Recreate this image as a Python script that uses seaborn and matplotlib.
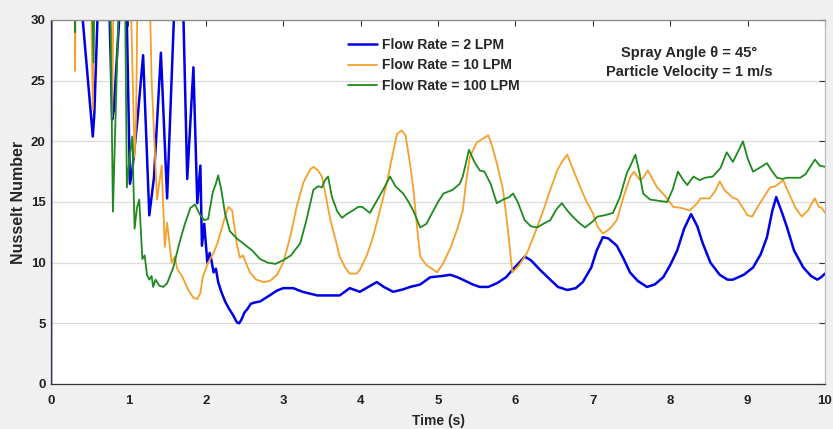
import matplotlib
matplotlib.use("Agg")
import matplotlib.pyplot as plt
import seaborn as sns
import pandas as pd

# ---------------- data ----------------
t_2lpm = [0.0, 0.005, 0.54, 0.56, 0.61, 0.70, 0.79, 0.81, 0.89, 0.95, 1.02, 1.05, 1.12, 1.19,
          1.27, 1.33, 1.42, 1.50, 1.59, 1.65, 1.71, 1.76, 1.84, 1.89, 1.93, 1.95, 1.98,
          2.02, 2.05, 2.07, 2.10, 2.13, 2.16, 2.20, 2.25, 2.30, 2.35, 2.40, 2.43, 2.46,
          2.50, 2.54, 2.58, 2.62, 2.70, 2.80, 2.92, 3.00, 3.13, 3.25, 3.44, 3.60, 3.73,
          3.86, 3.99, 4.10, 4.21, 4.30, 4.42, 4.55, 4.64, 4.77, 4.90, 5.05, 5.16, 5.25,
          5.32, 5.45, 5.54, 5.65, 5.76, 5.88, 5.96, 6.05, 6.12, 6.20, 6.32, 6.45, 6.55,
          6.67, 6.78, 6.87, 6.98, 7.05, 7.13, 7.20, 7.31, 7.40, 7.48, 7.58, 7.70, 7.80,
          7.91, 8.00, 8.09, 8.18, 8.27, 8.35, 8.42, 8.52, 8.64, 8.74, 8.81, 8.95, 9.07,
          9.17, 9.25, 9.32, 9.37, 9.44, 9.51, 9.60, 9.72, 9.82, 9.90, 9.95, 10.0]
nu_2lpm = [0.0, 60.0, 20.4, 22.3, 32.0, 45.0, 21.8, 22.5, 31.0, 40.0, 16.5, 17.6, 22.0, 27.1,
           13.9, 17.0, 27.3, 15.3, 30.5, 40.0, 30.5, 16.9, 26.1, 14.9, 18.0, 11.4, 13.2,
           10.0, 10.8, 10.3, 9.2, 9.5, 8.4, 7.6, 6.8, 6.2, 5.7, 5.1, 5.0, 5.3,
           5.9, 6.2, 6.6, 6.7, 6.8, 7.2, 7.7, 7.9, 7.9, 7.6, 7.3, 7.3, 7.3,
           7.9, 7.6, 8.0, 8.4, 8.0, 7.6, 7.8, 8.0, 8.2, 8.8, 8.9, 9.0, 8.8,
           8.6, 8.2, 8.0, 8.0, 8.3, 8.8, 9.4, 10.0, 10.5, 10.2, 9.4, 8.6, 8.0,
           7.75, 7.9, 8.4, 9.6, 11.0, 12.1, 12.0, 11.4, 10.3, 9.2, 8.5, 8.0, 8.2,
           8.8, 9.8, 11.0, 12.8, 14.0, 13.0, 11.6, 10.0, 9.0, 8.6, 8.6, 9.0, 9.6,
           10.7, 12.1, 14.3, 15.4, 14.2, 12.9, 11.0, 9.6, 8.9, 8.6, 8.8, 9.1]

t_10lpm = [0.0, 0.005, 0.30, 0.31, 0.33, 0.50, 0.54, 0.57, 0.75, 0.79, 0.82, 1.00, 1.08, 1.10,
           1.13, 1.25, 1.30, 1.37, 1.43, 1.47, 1.50, 1.56, 1.60, 1.63, 1.70, 1.77, 1.84,
           1.89, 1.93, 1.96, 2.03, 2.10, 2.15, 2.25, 2.29, 2.34, 2.40, 2.44, 2.48, 2.53,
           2.57, 2.65, 2.75, 2.83, 2.92, 3.00, 3.09, 3.17, 3.26, 3.35, 3.39, 3.45, 3.50,
           3.55, 3.61, 3.68, 3.73, 3.80, 3.86, 3.95, 3.99, 4.08, 4.16, 4.25, 4.34, 4.40,
           4.47, 4.53, 4.58, 4.63, 4.68, 4.72, 4.77, 4.85, 4.90, 4.99, 5.07, 5.16, 5.25,
           5.32, 5.36, 5.41, 5.50, 5.60, 5.65, 5.70, 5.76, 5.84, 5.90, 5.96, 6.05, 6.15,
           6.25, 6.36, 6.45, 6.54, 6.60, 6.67, 6.75, 6.84, 6.92, 7.00, 7.06, 7.13, 7.22,
           7.31, 7.40, 7.48, 7.53, 7.61, 7.65, 7.71, 7.78, 7.83, 7.92, 7.97, 8.04, 8.15,
           8.25, 8.35, 8.39, 8.51, 8.58, 8.64, 8.70, 8.80, 8.87, 8.94, 9.00, 9.06, 9.12,
           9.20, 9.29, 9.36, 9.46, 9.50, 9.55, 9.62, 9.70, 9.78, 9.84, 9.87, 9.92, 9.96, 10.0]
nu_10lpm = [0.0, 60.0, 40.0, 25.8, 40.0, 40.0, 22.6, 40.0, 40.0, 22.0, 40.0, 40.0, 18.7, 22.0,
            40.0, 40.0, 25.0, 15.2, 18.0, 11.3, 13.3, 10.0, 10.5, 9.5, 8.8, 7.8, 7.1,
            7.0, 7.5, 8.8, 10.0, 10.8, 11.6, 13.8, 14.6, 14.3, 11.6, 10.4, 10.6, 9.8,
            9.2, 8.6, 8.4, 8.5, 9.0, 10.0, 12.1, 14.5, 16.6, 17.7, 17.9, 17.6, 17.1,
            15.5, 13.5, 11.8, 10.5, 9.6, 9.1, 9.1, 9.4, 10.6, 12.1, 14.3, 16.6, 18.5,
            20.6, 20.9, 20.5, 18.5, 16.2, 13.5, 10.5, 9.8, 9.6, 9.2, 10.0, 11.2, 12.8,
            14.3, 16.5, 18.7, 19.9, 20.3, 20.5, 19.6, 18.2, 16.0, 12.9, 9.2, 9.8, 10.8,
            12.4, 14.3, 16.0, 17.6, 18.3, 18.9, 17.6, 16.2, 15.0, 14.1, 13.0, 12.4, 12.8,
            13.5, 15.5, 17.0, 17.5, 16.8, 17.0, 17.6, 16.8, 16.2, 15.6, 15.2, 14.6, 14.5,
            14.3, 14.9, 15.3, 15.3, 15.9, 16.7, 16.0, 15.4, 15.2, 14.5, 13.9, 13.8, 14.5,
            15.3, 16.2, 16.3, 16.8, 16.2, 15.5, 14.5, 13.8, 14.3, 15.0, 15.3, 14.6, 14.5, 14.1]

t_100lpm = [0.0, 0.005, 0.30, 0.31, 0.32, 0.50, 0.55, 0.57, 0.75, 0.80, 0.87, 0.92, 0.96, 0.98,
            1.02, 1.05, 1.08, 1.11, 1.14, 1.18, 1.21, 1.24, 1.27, 1.30, 1.32, 1.35, 1.40,
            1.45, 1.50, 1.58, 1.65, 1.72, 1.80, 1.86, 1.92, 1.98, 2.03, 2.09, 2.13, 2.16,
            2.20, 2.25, 2.31, 2.40, 2.50, 2.60, 2.70, 2.80, 2.90, 3.00, 3.10, 3.22, 3.30,
            3.39, 3.45, 3.50, 3.54, 3.58, 3.63, 3.70, 3.76, 3.82, 3.90, 3.97, 4.02, 4.08,
            4.12, 4.20, 4.29, 4.38, 4.45, 4.55, 4.62, 4.68, 4.77, 4.85, 4.90, 5.00, 5.07,
            5.19, 5.28, 5.32, 5.40, 5.47, 5.54, 5.60, 5.68, 5.76, 5.84, 5.92, 5.97, 6.03,
            6.12, 6.20, 6.28, 6.36, 6.45, 6.53, 6.60, 6.67, 6.74, 6.82, 6.90, 7.00, 7.06,
            7.15, 7.26, 7.35, 7.44, 7.48, 7.55, 7.60, 7.65, 7.74, 7.85, 7.96, 8.03, 8.10,
            8.17, 8.22, 8.30, 8.38, 8.45, 8.55, 8.65, 8.73, 8.81, 8.88, 8.94, 9.00, 9.07,
            9.15, 9.25, 9.32, 9.38, 9.45, 9.51, 9.60, 9.68, 9.75, 9.82, 9.87, 9.93, 10.0]
nu_100lpm = [0.0, 60.0, 40.0, 29.0, 40.0, 40.0, 26.5, 40.0, 40.0, 14.2, 30.5, 40.0, 30.0, 16.2,
             19.0, 20.4, 12.8, 14.5, 15.2, 10.3, 10.6, 9.0, 8.6, 8.9, 8.0, 8.6, 8.1,
             8.0, 8.3, 9.6, 11.4, 13.0, 14.5, 14.8, 14.0, 13.5, 13.6, 15.8, 16.5, 17.2,
             16.0, 14.0, 12.6, 12.0, 11.5, 11.0, 10.3, 10.0, 9.9, 10.2, 10.6, 11.6, 13.5,
             16.0, 16.3, 16.2, 16.8, 17.1, 15.4, 14.2, 13.7, 14.0, 14.3, 14.6, 14.6, 14.3,
             14.1, 15.0, 16.0, 17.1, 16.3, 15.7, 15.0, 14.3, 12.9, 13.2, 13.8, 15.0, 15.7,
             16.0, 16.5, 17.1, 19.3, 18.3, 17.6, 17.5, 16.5, 14.9, 15.2, 15.4, 15.7, 15.0,
             13.5, 13.0, 12.9, 13.2, 13.5, 14.4, 14.9, 14.3, 13.8, 13.3, 12.9, 13.4, 13.8,
             13.9, 14.1, 15.4, 17.4, 17.9, 18.9, 17.5, 15.7, 15.2, 15.1, 15.0, 16.0, 17.5,
             16.8, 16.4, 17.1, 16.8, 17.0, 17.1, 17.8, 19.1, 18.3, 19.2, 20.0, 18.6, 17.5,
             17.8, 18.2, 17.5, 17.0, 16.9, 17.0, 17.0, 17.0, 17.3, 18.0, 18.5, 18.0, 17.9]

labels = ["Flow Rate = 2 LPM", "Flow Rate = 10 LPM", "Flow Rate = 100 LPM"]
x_ticks = [0, 1, 2, 3, 4, 5, 6, 7, 8, 9, 10]
y_ticks = [0, 5, 10, 15, 20, 25, 30]

# ---------------- build frames ----------------
series = [(t_2lpm, nu_2lpm), (t_10lpm, nu_10lpm), (t_100lpm, nu_100lpm)]
colors = ["#0000e6", "#f5a02a", "#1e8a1e"]
widths = [1.8, 1.3, 1.3]

sns.set_style("white")
plt.rcParams["font.family"] = ["Liberation Sans", "DejaVu Sans"]
plt.rcParams["font.weight"] = "bold"

fig = plt.figure(figsize=(8.33, 4.29), dpi=100, facecolor="#f0f0f0")
ax = fig.add_axes([51 / 833, 45 / 429, 774 / 833, 364 / 429])
ax.set_facecolor("white")

for (t, nu), lab, c, lw in zip(series, labels, colors, widths):
    df = pd.DataFrame({"Time (s)": t, "Nusselt Number": nu})
    sns.lineplot(data=df, x="Time (s)", y="Nusselt Number", ax=ax, sort=False,
                 estimator=None, color=c, linewidth=lw, label=lab)

ax.set_xlim(0, 10)
ax.set_ylim(0, 30)
ax.set_xticks(x_ticks)
ax.set_yticks(y_ticks)
ax.set_xticklabels([str(v) for v in x_ticks], fontsize=9.5, fontweight="bold")
ax.set_yticklabels([str(v) for v in y_ticks], fontsize=9.5, fontweight="bold")
ax.tick_params(direction="in", length=4, width=0.8, top=True, right=True,
               colors="#333333", labelcolor="#222222")
ax.tick_params(axis="x", pad=8)
ax.tick_params(axis="y", pad=4)
ax.yaxis.grid(True, color="#dcdcdc", linewidth=0.9)
ax.xaxis.grid(False)
ax.set_axisbelow(True)
for side, col in [("left", "#333333"), ("bottom", "#333333"), ("top", "#888888"), ("right", "#bbbbbb")]:
    ax.spines[side].set_visible(True)
    ax.spines[side].set_color(col)
    ax.spines[side].set_linewidth(0.9)

ax.set_xlabel("Time (s)", fontsize=10, fontweight="bold", labelpad=5)
ax.set_ylabel("Nusselt Number", fontsize=11.5, fontweight="bold", labelpad=3)

leg = ax.legend(loc="upper left", bbox_to_anchor=(0.384, 0.950), frameon=False,
                fontsize=10, handlelength=2.1, handletextpad=0.3, labelspacing=0.45,
                borderpad=0, borderaxespad=0)
for txt in leg.get_texts():
    txt.set_fontweight("bold")

ax.text(0.824, 0.883, "Spray Angle \u03b8 = 45\u00b0\nParticle Velocity = 1 m/s",
        transform=ax.transAxes, ha="center", va="center", fontsize=10.5,
        fontweight="bold", linespacing=1.45)

fig.savefig("out.png", dpi=100, facecolor=fig.get_facecolor())
